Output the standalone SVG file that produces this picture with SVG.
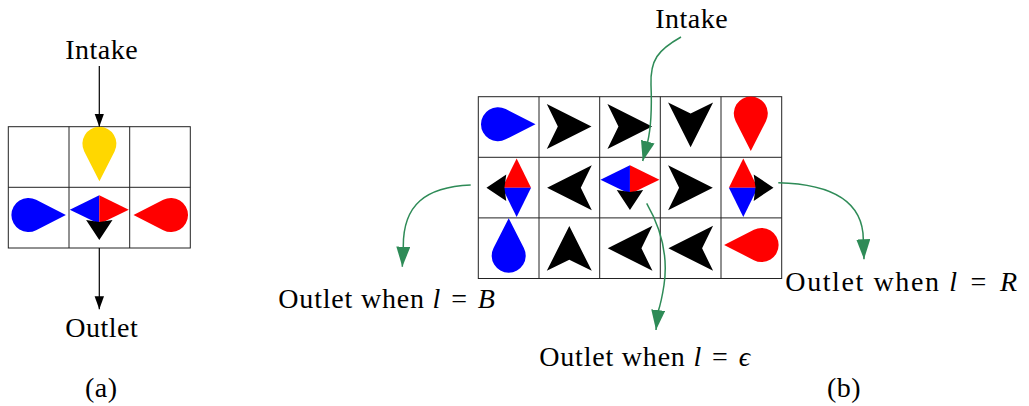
<svg xmlns="http://www.w3.org/2000/svg" xmlns:xlink="http://www.w3.org/1999/xlink" width="1029" height="406" viewBox="0 0 1029 406">
<style>
text{font-family:"Liberation Serif","Times New Roman",serif;font-size:28px;fill:#000;text-anchor:middle;letter-spacing:0.5px}
.wide{letter-spacing:0.8px}
.wider{letter-spacing:1.6px}
.grid{fill:none;stroke:#222;stroke-width:1}
.k{fill:#000}
.b{fill:#0000ff}
.r{fill:#ff0000}
.y{fill:#ffd700}
.blk{fill:none;stroke:#000;stroke-width:1.2}
.grn{fill:none;stroke:#2e8b57;stroke-width:1.5}
.i{font-style:italic}
</style>
<defs>
<path id="arw" d="M22.2,0 L-22.5,-22.5 L-11.5,0 L-22.5,22.5 Z"/>
<path id="sarw" d="M22.2,0 L2.4,-13.2 L4.2,0 L2.4,13.2 Z"/>
<path id="drop" d="M37.5,0 L7.7,-15.15 A17,17 0 1 0 7.7,15.15 Z"/>
<marker id="ah" viewBox="0 0 14 10" markerWidth="14" markerHeight="10" refX="13" refY="5" orient="auto" markerUnits="userSpaceOnUse"><path d="M0,0.3 L13,5 L0,9.7 Z" fill="#000"/></marker>
<marker id="gh" viewBox="0 0 20 14" markerWidth="20" markerHeight="14" refX="20" refY="7" orient="auto" markerUnits="userSpaceOnUse"><path d="M0,0 L20,7 L0,14 Z" fill="#2e8b57"/></marker>
</defs>

<!-- (a) grid -->
<g id="gridA">
<rect class="grid" x="8.3" y="126.7" width="182" height="121.3"/>
<line class="grid" x1="69" y1="126.7" x2="69" y2="248"/>
<line class="grid" x1="129.7" y1="126.7" x2="129.7" y2="248"/>
<line class="grid" x1="8.3" y1="187.3" x2="190.3" y2="187.3"/>
</g>
<g id="a-yellow"><use xlink:href="#drop" class="y" transform="translate(99.4,143.8) rotate(90)"/></g>
<g id="a-blue"><use xlink:href="#drop" class="b" transform="translate(28.4,215)"/></g>
<g id="a-red"><use xlink:href="#drop" class="r" transform="translate(171,215) rotate(180)"/></g>
<g id="a-center">
<polygon class="b" points="69.8,209.7 99.3,195.3 99.3,224.1"/>
<polygon class="r" points="99.3,195.3 128.8,209.7 99.3,224.1"/>
<use xlink:href="#sarw" class="k" transform="translate(99.3,217.7) rotate(90)"/>
</g>

<!-- (b) grid -->
<g id="gridB">
<rect class="grid" x="478.3" y="96.7" width="303.4" height="181.8"/>
<line class="grid" x1="539" y1="96.7" x2="539" y2="278.5"/>
<line class="grid" x1="599.7" y1="96.7" x2="599.7" y2="278.5"/>
<line class="grid" x1="660.3" y1="96.7" x2="660.3" y2="278.5"/>
<line class="grid" x1="721" y1="96.7" x2="721" y2="278.5"/>
<line class="grid" x1="478.3" y1="157.3" x2="781.7" y2="157.3"/>
<line class="grid" x1="478.3" y1="217.9" x2="781.7" y2="217.9"/>
</g>
<g id="b00"><use xlink:href="#drop" class="b" transform="translate(498,124.2)"/></g>
<g id="b01"><use xlink:href="#arw" class="k" transform="translate(569.3,126.5)"/></g>
<g id="b02"><use xlink:href="#arw" class="k" transform="translate(629.95,126.5)"/></g>
<g id="b03"><use xlink:href="#arw" class="k" transform="translate(690.6,125) rotate(90)"/></g>
<g id="b04"><use xlink:href="#drop" class="r" transform="translate(750.8,113.5) rotate(90)"/></g>

<g id="b10">
<polygon class="r" points="516.65,158.4 502.25,187.7 531.05,187.7"/>
<polygon class="b" points="502.25,187.7 531.05,187.7 516.65,217"/>
<use xlink:href="#sarw" class="k" transform="translate(508.65,187.7) rotate(180)"/>
</g>
<g id="b11"><use xlink:href="#arw" class="k" transform="translate(569.3,187.7) rotate(180)"/></g>
<g id="b12">
<polygon class="b" points="600.45,179.7 629.95,165.3 629.95,194.1"/>
<polygon class="r" points="629.95,165.3 659.45,179.7 629.95,194.1"/>
<use xlink:href="#sarw" class="k" transform="translate(629.95,187.7) rotate(90)"/>
</g>
<g id="b13"><use xlink:href="#arw" class="k" transform="translate(690.6,187.7)"/></g>
<g id="b14">
<polygon class="r" points="743.3,158.4 728.9,187.7 757.7,187.7"/>
<polygon class="b" points="728.9,187.7 757.7,187.7 743.3,217"/>
<use xlink:href="#sarw" class="k" transform="translate(751.3,187.7)"/>
</g>

<g id="b20"><use xlink:href="#drop" class="b" transform="translate(508.7,255.7) rotate(-90)"/></g>
<g id="b21"><use xlink:href="#arw" class="k" transform="translate(569.3,248.3) rotate(-90)"/></g>
<g id="b22"><use xlink:href="#arw" class="k" transform="translate(629.95,248.3) rotate(180)"/></g>
<g id="b23"><use xlink:href="#arw" class="k" transform="translate(690.6,248.3) rotate(180)"/></g>
<g id="b24"><use xlink:href="#drop" class="r" transform="translate(761.6,245) rotate(180)"/></g>

<!-- connectors -->
<g id="connectors">
<line class="blk" x1="99.3" y1="66" x2="99.3" y2="126.7" marker-end="url(#ah)"/>
<line class="blk" x1="99.3" y1="248" x2="99.3" y2="309.3" marker-end="url(#ah)"/>
<path class="grn" d="M681,37 C658,50 650,60 651,85 C652,110 651,128 647.5,142.7 L642.7,161" marker-end="url(#gh)"/>
<path class="grn" d="M646.7,203.3 C662,230 668,258 664,285 C662,298 660,306 658,312 L656,330" marker-end="url(#gh)"/>
<path class="grn" d="M470.7,185 C425,187 403,205 403.3,246.7 L402.3,266.7" marker-end="url(#gh)"/>
<path class="grn" d="M778.3,182.7 C830,184 863,200 863.3,239.3 L864,259.3" marker-end="url(#gh)"/>
</g>

<!-- labels -->
<g id="labels">
<text x="101.7" y="59.3">Intake</text>
<text x="101.7" y="337.3">Outlet</text>
<text x="101.3" y="396.5">(a)</text>
<text x="691.7" y="28.3">Intake</text>
<text class="wide" x="387" y="308">Outlet when <tspan class="i">l</tspan><tspan dx="10">=</tspan><tspan class="i" dx="10">B</tspan></text>
<text class="wide" x="645" y="366">Outlet when <tspan class="i">l</tspan><tspan dx="10">=</tspan><tspan class="i" dx="10">ϵ</tspan></text>
<text class="wider" x="902" y="291">Outlet when <tspan class="i">l</tspan><tspan dx="12">=</tspan><tspan class="i" dx="12">R</tspan></text>
<text x="844" y="397">(b)</text>
</g>
</svg>
